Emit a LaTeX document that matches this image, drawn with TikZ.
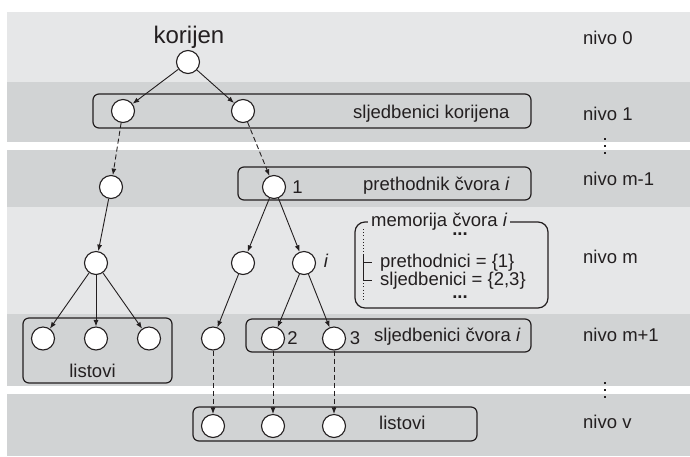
\documentclass[tikz,border=0pt]{standalone}
\usepackage{fontspec}
\setmainfont{Liberation Sans}
\usetikzlibrary{arrows.meta}
\definecolor{bandlight}{RGB}{230,231,232}
\definecolor{banddark}{RGB}{209,211,212}
\definecolor{ink}{RGB}{35,31,32}
\newcommand\labfont{\fontsize{18.5}{22}\selectfont}
\newcommand\bigfont{\fontsize{24}{28}\selectfont}

\begin{document}
\begin{tikzpicture}[x=1pt,y=-1pt,
  vert/.style={circle, draw=ink, fill=white, line width=1.1pt, minimum size=23pt, inner sep=0pt},
  arr/.style={-{Latex[length=6.5pt,width=5pt]}, line width=0.9pt, draw=ink},
  darr/.style={arr, dash pattern=on 5pt off 3pt},
  grp/.style={draw=ink, line width=1.2pt, rounded corners=6pt},
  txt/.style={anchor=base west, inner sep=0pt, font=\labfont, text=ink},
  num/.style={anchor=center, inner sep=0pt, font=\labfont, text=ink},
  treeline/.style={draw=ink, line width=0.9pt},
  treedots/.style={draw=ink, line width=0.7pt, dash pattern=on 1pt off 2.2pt},
  vdot/.style={fill=ink}
]
\useasboundingbox (0,0) rectangle (690,456);

% level bands
\fill[bandlight] (7,12)  rectangle (690,82);
\fill[banddark]  (7,82)  rectangle (690,142);
\fill[banddark]  (7,150) rectangle (690,207);
\fill[bandlight] (7,207) rectangle (690,314);
\fill[banddark]  (7,314) rectangle (690,386);
\fill[banddark]  (7,394) rectangle (690,456);

% group frames
\draw[grp] (93,94)   rectangle (531,128);
\draw[grp] (238,167) rectangle (531,200);
\draw[grp] (23,318)  rectangle (172,383);
\draw[grp] (246,319) rectangle (531,352);
\draw[grp] (193,407) rectangle (477,441);
\draw[grp, rounded corners=10pt] (355,222) rectangle (548,308);

% tree vertices
\node[vert] (r)  at (188,62) {};
\node[vert] (a1) at (123,111) {};
\node[vert] (a2) at (243,111) {};
\node[vert] (b1) at (111,187) {};
\node[vert] (b2) at (274,187) {};
\node[vert] (c1) at (96,263) {};
\node[vert] (c2) at (243,263) {};
\node[vert] (c3) at (304,263) {};
\node[vert] (d1) at (43,338.5) {};
\node[vert] (d2) at (96,338.5) {};
\node[vert] (d3) at (149,338.5) {};
\node[vert] (d4) at (213,338.5) {};
\node[vert] (d5) at (273,338.5) {};
\node[vert] (d6) at (334,338.5) {};
\node[vert] (e1) at (213,426) {};
\node[vert] (e2) at (273,426) {};
\node[vert] (e3) at (334,426) {};

% edges
\draw[arr]  (r) -- (a1);
\draw[arr]  (r) -- (a2);
\draw[darr] (a1) -- (b1);
\draw[darr] (a2) -- (b2);
\draw[arr]  (b1) -- (c1);
\draw[arr]  (b2) -- (c2);
\draw[arr]  (b2) -- (c3);
\draw[arr]  (c1) -- (d1);
\draw[arr]  (c1) -- (d2);
\draw[arr]  (c1) -- (d3);
\draw[arr]  (c2) -- (d4);
\draw[arr]  (c3) -- (d5);
\draw[arr]  (c3) -- (d6);
\draw[darr] (d4) -- (e1);
\draw[darr] (d5) -- (e2);
\draw[darr] (d6) -- (e3);

% vertex labels
\node[num] (n1) at (297.5,187) {1};
\node[num] (ni) at (326,261) {\itshape i};
\node[num] (n2) at (292.5,338.5) {2};
\node[num] (n3) at (355,338.5) {3};

% texts
\node[anchor=base, inner sep=0pt, font=\bigfont, text=ink] (root) at (189,43) {korijen};
\node[txt] (t1) at (353,118) {sljedbenici korijena};
\node[txt] (t2) at (363,190) {prethodnik čvora \textit{i}};
\node[txt] (t3) at (374,341) {sljedbenici čvora \textit{i}};
\node[anchor=base, inner sep=0pt, font=\labfont, text=ink] (t4) at (92.5,377) {listovi};
\node[txt] (t5) at (379,429) {listovi};

% level names
\node[txt] (lv0)  at (583,44)  {nivo 0};
\node[txt] (lv1)  at (583,120) {nivo 1};
\node[txt] (lvm1) at (583,185) {nivo m-1};
\node[txt] (lvm)  at (583,263) {nivo m};
\node[txt] (lvm2) at (583,341) {nivo m+1};
\node[txt] (lvv)  at (583,428) {nivo v};

% skipped levels
\foreach \yy in {139,146,153,383,390,397}
  \fill[vdot] (603.7,\yy-1.3) rectangle (606.3,\yy+1.3);

% node memory
\node[anchor=base west, inner xsep=3pt, inner ysep=0pt, fill=bandlight, font=\labfont, text=ink] (mt) at (368,226) {memorija čvora \textit{i}};
\node[anchor=base, inner sep=0pt, font=\labfont\bfseries, text=ink] (e1dots) at (460,235.3) {...};
\node[anchor=base, inner sep=0pt, font=\labfont\bfseries, text=ink] (e2dots) at (460,298.3) {...};
\node[txt] (m1) at (380,267) {prethodnici = \{1\}};
\node[txt] (m2) at (380,285) {sljedbenici = \{2,3\}};
\draw[treedots] (363,229) -- (363,254);
\draw[treeline] (363,254) -- (363,280) -- (372,280);
\draw[treeline] (363,262) -- (372,262);
\draw[treedots] (363,280) -- (363,302);
\end{tikzpicture}
\end{document}
